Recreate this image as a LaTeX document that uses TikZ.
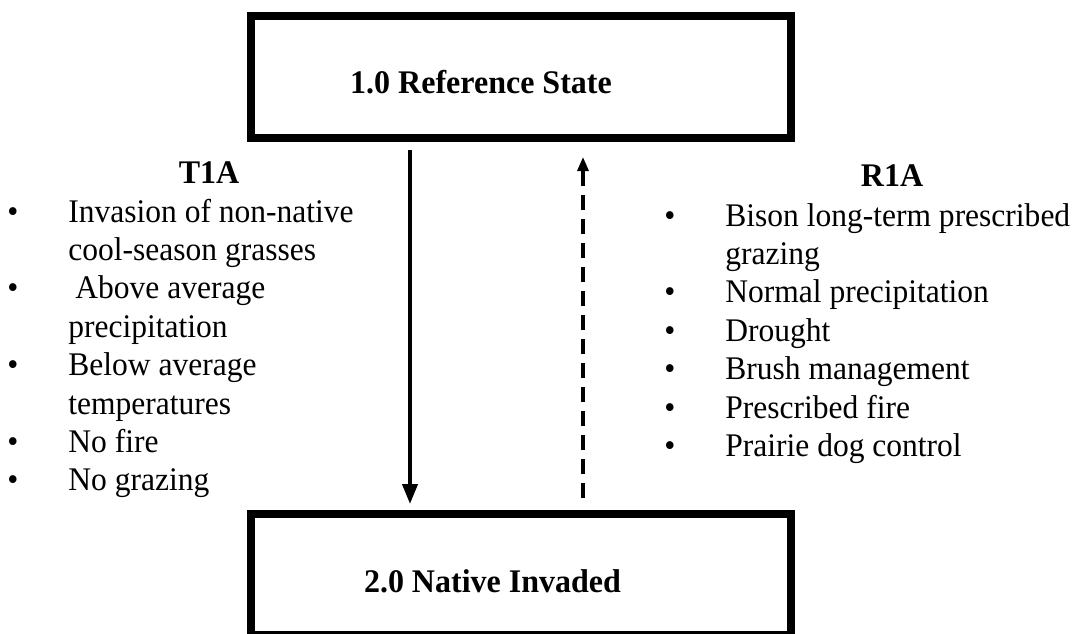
\documentclass[tikz,border=0pt]{standalone}
\usepackage{fontspec}
\setmainfont{Liberation Serif}
\newfontfamily\bodyfont{Liberation Serif}[FakeStretch=0.955]
\newfontfamily\titlefont{Liberation Serif}[FakeStretch=0.97]
\usetikzlibrary{arrows.meta}
\begin{document}
\begin{tikzpicture}[x=0.5pt,y=-0.5pt,
  statebox/.style={draw, line width=4pt, minimum width=270pt, inner sep=0pt},
  statetext/.style={anchor=base, inner sep=0pt, font=\fontsize{16.5}{19.2}\titlefont\bfseries},
  heading/.style={anchor=base, inner sep=0pt, font=\fontsize{16.5}{19.2}\titlefont\bfseries},
  itemlist/.style={anchor=base west, inner sep=0pt, font=\fontsize{16.5}{19.2}\bodyfont},
  transition/.style={line width=2pt, -{Triangle[width=7.5pt,length=10pt]}},
  restoration/.style={line width=1.6pt, dash pattern=on 7.5pt off 4.5pt, -{Triangle[width=5.5pt,length=7pt]}}]
\useasboundingbox (0,0) rectangle (1077,633);

% state boxes
\node[statebox, minimum height=61pt] (ref) at (521,77) {};
\node[statebox, minimum height=60.5pt] (nat) at (521,574.5) {};
\node[statetext] (reftext) at (481,93) {1.0 Reference State};
\node[statetext] (nattext) at (492.5,592) {2.0 Native Invaded};

% transition and restoration pathways
\coordinate (xa) at (410,0);
\coordinate (xb) at (583,0);
\draw[transition, shorten <=4pt, shorten >=3pt] (ref.south -| xa) -- (nat.north -| xa);
\draw[restoration, shorten <=6pt, shorten >=7.5pt] (nat.north -| xb) -- (ref.south -| xb);

% transition T1A
\node[heading] (t1a) at (209,183) {T1A};
\node[itemlist] (t1list) at (7,222) {\begin{tabular}[t]{@{}p{30.5pt}@{}l@{}}
\textbullet & Invasion of non-native\\
 & cool-season grasses\\
\textbullet & \hspace{3.5pt}Above average\\
 & precipitation\\
\textbullet & Below average\\
 & temperatures\\
\textbullet & No fire\\
\textbullet & No grazing
\end{tabular}};

% restoration R1A
\node[heading] (r1a) at (892,186) {R1A};
\node[itemlist] (r1list) at (664,226) {\begin{tabular}[t]{@{}p{30.5pt}@{}l@{}}
\textbullet & Bison long-term prescribed\\
 & grazing\\
\textbullet & Normal precipitation\\
\textbullet & Drought\\
\textbullet & Brush management\\
\textbullet & Prescribed fire\\
\textbullet & Prairie dog control
\end{tabular}};
\end{tikzpicture}
\end{document}
